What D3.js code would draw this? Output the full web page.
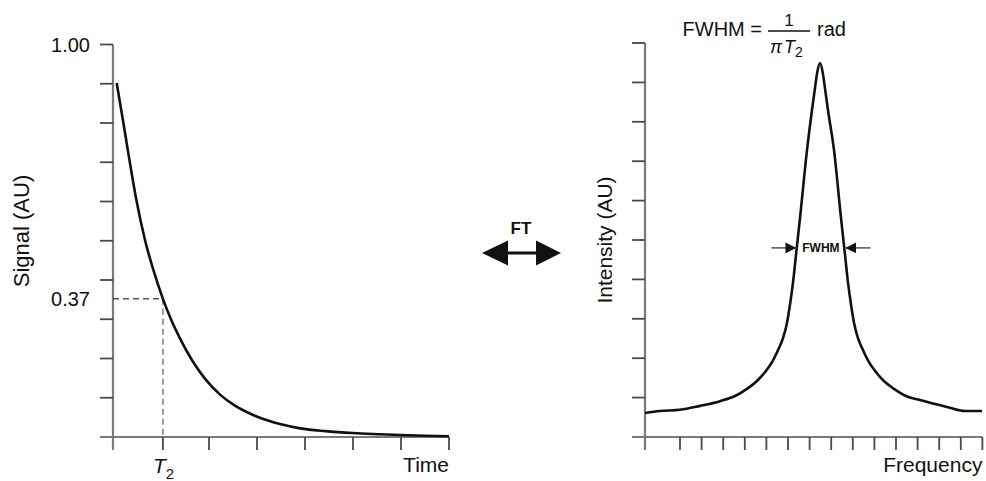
<!DOCTYPE html>
<html>
<head>
<meta charset="utf-8">
<script src="https://cdnjs.cloudflare.com/ajax/libs/d3/7.8.5/d3.min.js"></script>
<style>
    body { margin: 0; background: #fff; }
    text { font-family: "Liberation Sans", Arial, sans-serif; fill: #111; }
</style>
</head>
<body>
<div id="chart"></div>
<script>
// decay (time domain), time in tick units, signal 0..1
var decayTime = [0.077, 0.21, 0.33, 0.48, 0.67, 0.86, 1.04, 1.19, 1.40, 1.65, 1.92, 2.23,
    2.54, 2.85, 3.06, 3.48, 3.90, 4.42, 5.0, 5.56, 5.98, 6.5, 7.0];
var decaySignal = [0.902, 0.805, 0.715, 0.608, 0.500, 0.418, 0.352, 0.305, 0.250, 0.195, 0.148, 0.108,
    0.080, 0.060, 0.049, 0.033, 0.022, 0.015, 0.010, 0.007, 0.005, 0.003, 0.002];
var t2Time = 1.04;
var t2Signal = 0.352;
var timeTicks = [t2Time, 2, 3, 4, 5, 6, 7];
var signalLabels = ["1.00", "0.37"];

// spectrum (frequency domain), frequency in tick units, intensity 0..1
var specFreq = [-1.62, -0.93, 0, 0.93, 1.85, 2.55, 3.10, 3.56, 3.94, 4.26, 4.54, 4.77, 4.95, 5.09,
    5.23, 5.37, 5.56, 5.88, 6.11, 6.25, 6.34, 6.48, 6.62, 6.71, 6.85, 7.13, 7.45, 7.64, 7.78,
    7.92, 8.06, 8.24, 8.47, 8.75, 9.07, 9.44, 9.91, 10.46, 11.11, 11.81, 12.50, 13.19, 13.98];
var specIntensity = [0.061, 0.066, 0.069, 0.079, 0.091, 0.104, 0.122, 0.142, 0.165, 0.190, 0.221, 0.251, 0.289, 0.335,
    0.391, 0.462, 0.558, 0.728, 0.830, 0.886, 0.921, 0.949, 0.921, 0.886, 0.830, 0.728, 0.558, 0.462, 0.391,
    0.335, 0.289, 0.251, 0.221, 0.190, 0.165, 0.142, 0.122, 0.104, 0.094, 0.084, 0.074, 0.066, 0.066];
var freqTicks = d3.range(0, 15);
var fwhmLeft = 5.39, fwhmRight = 7.66, halfMax = 0.48;

var valueTicks = d3.range(0, 11).map(function(i) { return i / 10; });

var width = 986, height = 481;
var axisColor = "#7a7a7a", tickColor = "#4a4a4a";
var tickLen = 13;

var svg = d3.select("#chart").append("svg")
    .attr("width", width)
    .attr("height", height);

var defs = svg.append("defs");
defs.append("marker")
    .attr("id", "tri")
    .attr("viewBox", "0 0 10 10")
    .attr("refX", 10)
    .attr("refY", 5)
    .attr("markerWidth", 11)
    .attr("markerHeight", 11)
    .attr("markerUnits", "userSpaceOnUse")
    .attr("orient", "auto-start-reverse")
    .append("path")
        .attr("d", "M0,0 L10,5 L0,10 Z")
        .attr("fill", "#111");

function drawAxes(g, x, y, xTicks, xMin, xMax) {
    var x0 = x(xMin), x1 = x(xMax);
    var yBottom = y(0), yTop = y(1);

    // y axis, runs a tick length below the x axis
    g.append("line")
        .attr("x1", x0).attr("x2", x0)
        .attr("y1", yTop).attr("y2", yBottom + tickLen)
        .attr("stroke", axisColor)
        .attr("stroke-width", 2.2);
    g.selectAll(".ytick")
        .data(valueTicks)
        .enter().append("line")
            .attr("class", "ytick")
            .attr("x1", x0 - tickLen).attr("x2", x0)
            .attr("y1", function(d) { return y(d); })
            .attr("y2", function(d) { return y(d); })
            .attr("stroke", tickColor)
            .attr("stroke-width", 1.8);

    // x axis
    g.append("line")
        .attr("x1", x0 - tickLen).attr("x2", x1)
        .attr("y1", yBottom).attr("y2", yBottom)
        .attr("stroke", axisColor)
        .attr("stroke-width", 2.2);
    g.selectAll(".xtick")
        .data(xTicks)
        .enter().append("line")
            .attr("class", "xtick")
            .attr("x1", function(d) { return x(d); })
            .attr("x2", function(d) { return x(d); })
            .attr("y1", yBottom).attr("y2", yBottom + tickLen)
            .attr("stroke", tickColor)
            .attr("stroke-width", 1.8);
}

// ---------- left: signal vs time ----------
var xL = d3.scaleLinear().domain([0, 7]).range([113, 449]);
var yL = d3.scaleLinear().domain([0, 1]).range([437, 44.5]);
var left = svg.append("g");

drawAxes(left, xL, yL, timeTicks, 0, 7);

left.append("line")
    .attr("x1", xL(0)).attr("x2", xL(t2Time))
    .attr("y1", yL(t2Signal)).attr("y2", yL(t2Signal))
    .attr("stroke", "#555")
    .attr("stroke-width", 1.5)
    .attr("stroke-dasharray", "6,4");
left.append("line")
    .attr("x1", xL(t2Time)).attr("x2", xL(t2Time))
    .attr("y1", yL(t2Signal)).attr("y2", yL(0))
    .attr("stroke", "#999")
    .attr("stroke-width", 2)
    .attr("stroke-dasharray", "6,4");

var decayData = decayTime.map(function(t, i) { return [t, decaySignal[i]]; });
left.append("path")
    .datum(decayData)
    .attr("d", d3.line()
        .x(function(d) { return xL(d[0]); })
        .y(function(d) { return yL(d[1]); })
        .curve(d3.curveMonotoneX))
    .attr("fill", "none")
    .attr("stroke", "#111")
    .attr("stroke-width", 2.6);

left.selectAll(".vlabel")
    .data([1, t2Signal])
    .enter().append("text")
        .attr("class", "vlabel")
        .attr("x", 90)
        .attr("y", function(d) { return yL(d) + 7; })
        .attr("text-anchor", "end")
        .style("font-size", "20px")
        .text(function(d, i) { return signalLabels[i]; });

left.append("text")
    .attr("transform", "translate(29,231) rotate(-90)")
    .attr("text-anchor", "middle")
    .style("font-size", "22px")
    .text("Signal (AU)");

left.append("text")
    .attr("x", xL(7))
    .attr("y", 472)
    .attr("text-anchor", "end")
    .style("font-size", "21px")
    .text("Time");

var t2Label = left.append("text")
    .attr("x", xL(t2Time) - 10)
    .attr("y", 473)
    .style("font-size", "21px");
t2Label.append("tspan").style("font-style", "italic").text("T");
t2Label.append("tspan").attr("dy", 6).style("font-size", "15px").text("2");

// ---------- FT double arrow ----------
var ft = svg.append("g");
ft.append("line")
    .attr("x1", 487).attr("x2", 555)
    .attr("y1", 253).attr("y2", 253)
    .attr("stroke", "#111")
    .attr("stroke-width", 3);
ft.append("path")
    .attr("d", "M482,253 L508,240.5 L508,265.5 Z")
    .attr("fill", "#111");
ft.append("path")
    .attr("d", "M561,253 L536,240.5 L536,265.5 Z")
    .attr("fill", "#111");
ft.append("text")
    .attr("x", 521)
    .attr("y", 234)
    .attr("text-anchor", "middle")
    .style("font-size", "17px")
    .style("font-weight", "bold")
    .text("FT");

// ---------- right: intensity vs frequency ----------
var xR = d3.scaleLinear().domain([0, 14]).range([680, 982.4]);
var yR = d3.scaleLinear().domain([0, 1]).range([437, 43]);
var right = svg.append("g");

drawAxes(right, xR, yR, freqTicks, -1.62, 14);

var specData = specFreq.map(function(f, i) { return [f, specIntensity[i]]; });
right.append("path")
    .datum(specData)
    .attr("d", d3.line()
        .x(function(d) { return xR(d[0]); })
        .y(function(d) { return yR(d[1]); })
        .curve(d3.curveMonotoneX))
    .attr("fill", "none")
    .attr("stroke", "#111")
    .attr("stroke-width", 2.6);

// FWHM arrows pointing in at the half maximum
var hy = yR(halfMax);
right.append("line")
    .attr("x1", xR(fwhmLeft) - 25).attr("x2", xR(fwhmLeft))
    .attr("y1", hy).attr("y2", hy)
    .attr("stroke", "#555")
    .attr("stroke-width", 1.5)
    .attr("marker-end", "url(#tri)");
right.append("line")
    .attr("x1", xR(fwhmRight) + 25).attr("x2", xR(fwhmRight))
    .attr("y1", hy).attr("y2", hy)
    .attr("stroke", "#555")
    .attr("stroke-width", 1.5)
    .attr("marker-end", "url(#tri)");
right.append("text")
    .attr("x", (xR(fwhmLeft) + xR(fwhmRight)) / 2)
    .attr("y", hy + 4.5)
    .attr("text-anchor", "middle")
    .style("font-size", "12px")
    .style("font-weight", "bold")
    .text("FWHM");

right.append("text")
    .attr("transform", "translate(612,240) rotate(-90)")
    .attr("text-anchor", "middle")
    .style("font-size", "21px")
    .text("Intensity (AU)");

right.append("text")
    .attr("x", xR(14))
    .attr("y", 472)
    .attr("text-anchor", "end")
    .style("font-size", "21px")
    .text("Frequency");

// title formula: FWHM = 1 / (pi T2) rad
var title = svg.append("g");
title.append("text")
    .attr("x", 762)
    .attr("y", 36)
    .attr("text-anchor", "end")
    .style("font-size", "20px")
    .text("FWHM =");
title.append("line")
    .attr("x1", 768).attr("x2", 810)
    .attr("y1", 31).attr("y2", 31)
    .attr("stroke", "#111")
    .attr("stroke-width", 1.3);
title.append("text")
    .attr("x", 789)
    .attr("y", 26)
    .attr("text-anchor", "middle")
    .style("font-size", "17px")
    .text("1");
var denom = title.append("text")
    .attr("x", 770)
    .attr("y", 53)
    .style("font-size", "18px");
denom.append("tspan").style("font-style", "italic").text("\u03c0");
denom.append("tspan").attr("dx", 2).style("font-style", "italic").text("T");
denom.append("tspan").attr("dy", 4).style("font-size", "14px").text("2");
title.append("text")
    .attr("x", 817)
    .attr("y", 36)
    .style("font-size", "20px")
    .text("rad");
</script>
</body>
</html>
